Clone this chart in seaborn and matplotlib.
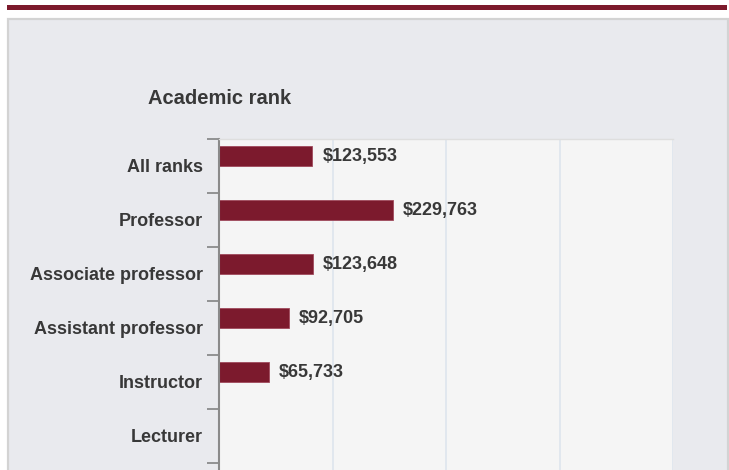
import matplotlib
matplotlib.use("Agg")
import matplotlib.pyplot as plt
from matplotlib.patches import Rectangle
import numpy as np
import pandas as pd
import seaborn as sns

# ---- data ----
ranks = ["All ranks", "Professor", "Associate professor", "Assistant professor",
         "Instructor", "Lecturer"]
salaries = [123553, 229763, 123648, 92705, 65733, np.nan]
value_labels = ["$123,553", "$229,763", "$123,648", "$92,705", "$65,733", ""]
title = "Academic rank"

df = pd.DataFrame({"rank": ranks, "salary": salaries})

sns.set_theme(style="white")
plt.rcParams["font.family"] = ["Liberation Sans", "DejaVu Sans"]

W, H = 729, 470
fig = plt.figure(figsize=(W / 100, H / 100), dpi=100, facecolor="white")

# outer decorations
fig.add_artist(Rectangle((7 / W, 1 - 9.5 / H), 720 / W, 4 / H,
                         transform=fig.transFigure, facecolor="#7c1a2c",
                         edgecolor="none", zorder=-2))
fig.add_artist(Rectangle((8 / W, -0.05), 720 / W, 1 - 19 / H + 0.05,
                         transform=fig.transFigure, facecolor="#e9eaee",
                         edgecolor="#d3d3d3", linewidth=1.6, zorder=-2))

# axes: top at 139px, left 219px, right 673px; extends past figure bottom
left, right, top = 219, 673, 139
cat_px = 54
n_vis = 6.5
ax_h = n_vis * cat_px
ax = fig.add_axes([left / W, 1 - (top + ax_h) / H, (right - left) / W, ax_h / H])
ax.set_zorder(1)
ax.set_facecolor("#f5f5f5")

sns.barplot(data=df, y="rank", x="salary", order=ranks, orient="h",
            color="#7c1a2d", width=0.37, ax=ax, saturation=1,
            edgecolor="#a04a5c", linewidth=0.6)

# bars sit in the upper half of each category slot
for p in ax.patches:
    p.set_y(p.get_y() - 0.185)

ax.set_xticks([150000, 300000, 450000, 600000])
ax.set_xticklabels([])
ax.tick_params(axis="x", length=0)
ax.grid(axis="x", color="#dfe6ee", linewidth=1.3)
ax.set_axisbelow(True)

ax.set_yticks(range(len(ranks)))
ax.set_yticklabels(ranks, fontsize=13, fontweight="bold", color="#383838")
ax.tick_params(axis="y", which="major", left=False, length=0, pad=11.5)
ax.set_yticks(np.arange(-0.5, len(ranks) + 0.6, 1), minor=True)
ax.tick_params(axis="y", which="minor", left=True, length=8.5, width=1.1,
               color="#7a7a7a", direction="out")
ax.set_xlim(0, 600000)
ax.set_ylim(-0.5 + n_vis, -0.5)
ax.set_xlabel("")
ax.set_ylabel("")

for s in ["right", "bottom"]:
    ax.spines[s].set_visible(False)
ax.spines["top"].set_color("#dedede")
ax.spines["top"].set_linewidth(1.0)
ax.spines["left"].set_color("#8a8a8a")
ax.spines["left"].set_linewidth(1.5)

for i, (v, lab) in enumerate(zip(salaries, value_labels)):
    if lab:
        ax.annotate(lab, xy=(v, i - 0.185), xytext=(10 / 1.389, 0),
                    textcoords="offset points", va="center", ha="left",
                    fontsize=13, fontweight="bold", color="#383838")

fig.text(148 / W, 1 - 98 / H, title, fontsize=14.5, fontweight="bold",
         color="#383838", ha="left", va="center")

fig.savefig("out.png", dpi=100, facecolor="white")
